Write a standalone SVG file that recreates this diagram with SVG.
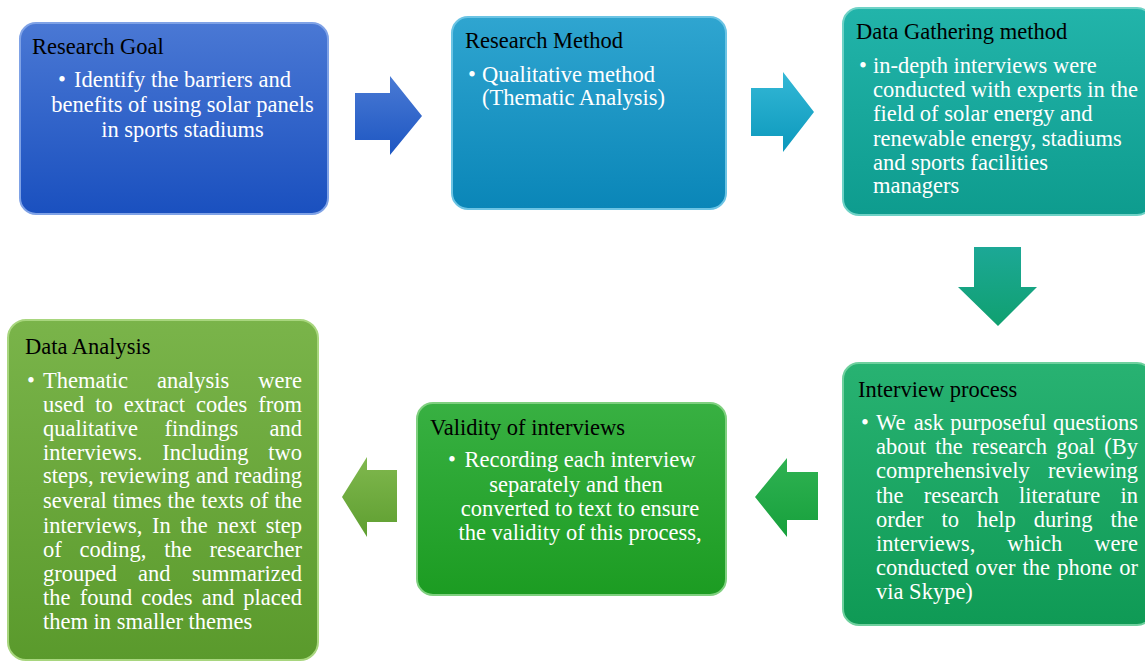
<svg xmlns="http://www.w3.org/2000/svg" width="1145" height="663" viewBox="0 0 1145 663">
<defs>
<linearGradient id="g1" x1="0" y1="0" x2="0" y2="1"><stop offset="0" stop-color="#4a78d4"/><stop offset="1" stop-color="#1a50bf"/></linearGradient>
<linearGradient id="g2" x1="0" y1="0" x2="0" y2="1"><stop offset="0" stop-color="#2fa5d0"/><stop offset="1" stop-color="#0a86b8"/></linearGradient>
<linearGradient id="g3" x1="0" y1="0" x2="0" y2="1"><stop offset="0" stop-color="#22b4aa"/><stop offset="1" stop-color="#0e9c8e"/></linearGradient>
<linearGradient id="g4" x1="0" y1="0" x2="0" y2="1"><stop offset="0" stop-color="#28b272"/><stop offset="1" stop-color="#0f9a55"/></linearGradient>
<linearGradient id="g5" x1="0" y1="0" x2="0" y2="1"><stop offset="0" stop-color="#38b042"/><stop offset="1" stop-color="#1c9c22"/></linearGradient>
<linearGradient id="g6" x1="0" y1="0" x2="0" y2="1"><stop offset="0" stop-color="#7ab44a"/><stop offset="1" stop-color="#5a9a2c"/></linearGradient>
<linearGradient id="a1" x1="0" y1="0" x2="0" y2="1"><stop offset="0" stop-color="#4a7ad4"/><stop offset="1" stop-color="#1d56c2"/></linearGradient>
<linearGradient id="a2" x1="0" y1="0" x2="0" y2="1"><stop offset="0" stop-color="#34b8d6"/><stop offset="1" stop-color="#0c98bc"/></linearGradient>
<linearGradient id="a3" x1="0" y1="0" x2="0" y2="1"><stop offset="0" stop-color="#1ca896"/><stop offset="1" stop-color="#10a070"/></linearGradient>
<linearGradient id="a4" x1="0" y1="0" x2="0" y2="1"><stop offset="0" stop-color="#2fb252"/><stop offset="1" stop-color="#17a03c"/></linearGradient>
<linearGradient id="a5" x1="0" y1="0" x2="0" y2="1"><stop offset="0" stop-color="#80b84e"/><stop offset="1" stop-color="#5e9e30"/></linearGradient>
</defs>
<style>
.box{stroke-width:2}
.t{font-family:"Liberation Serif","Times New Roman",serif;font-size:22.5px;fill:#000}
.b{font-family:"Liberation Serif","Times New Roman",serif;font-size:22.5px;fill:#fff}
.e{text-anchor:end}
.c{text-anchor:middle}
</style>
<rect width="1145" height="663" fill="#fff"/>
<g id="connectors">
<polygon points="355,93 390,93 390,76 422,116 390,155 390,140 355,140" fill="url(#a1)"/>
<polygon points="751,88 783,88 783,72 814,112 783,152 783,136 751,136" fill="url(#a2)"/>
<polygon points="974,247 1021,247 1021,287 1037,287 998,326 958,287 974,287" fill="url(#a3)"/>
<polygon points="818,472 787,472 787,458 755,497 787,537 787,520 818,520" fill="url(#a4)"/>
<polygon points="397,470 367,470 367,457 342,497 367,537 367,522 397,522" fill="url(#a5)"/>
</g>
<g id="research-goal">
<rect class="box" x="20" y="23" width="308" height="191" rx="16" fill="url(#g1)" stroke="#7fa2e6"/>
<text class="t" x="32" y="54">Research Goal</text>
<text class="b" x="58" y="87">•</text>
<text class="b c" x="182.5" y="87">Identify the barriers and</text>
<text class="b c" x="182.5" y="112">benefits of using solar panels</text>
<text class="b c" x="182.5" y="137">in sports stadiums</text>
</g>
<g id="research-method">
<rect class="box" x="452" y="17" width="274" height="192" rx="16" fill="url(#g2)" stroke="#6cc4e4"/>
<text class="t" x="465" y="48">Research Method</text>
<text class="b" x="468" y="82">•</text>
<text class="b" x="482" y="82">Qualitative method</text>
<text class="b" x="482" y="105">(Thematic Analysis)</text>
</g>
<g id="data-gathering">
<rect class="box" x="843" y="8" width="310" height="207" rx="16" fill="url(#g3)" stroke="#6fd2c6"/>
<text class="t" x="856" y="39">Data Gathering method</text>
<text class="b" x="859" y="73">•</text>
<text class="b" x="873" y="73">in-depth interviews were</text>
<text class="b" x="873" y="97">conducted with experts in the</text>
<text class="b" x="873" y="121">field of solar energy and</text>
<text class="b" x="873" y="146">renewable energy, stadiums</text>
<text class="b" x="873" y="170">and sports facilities</text>
<text class="b" x="873" y="193">managers</text>
</g>
<g id="interview-process">
<rect class="box" x="843" y="363" width="310" height="262" rx="16" fill="url(#g4)" stroke="#6fd09e"/>
<text class="t" x="858" y="397">Interview process</text>
<text class="b" x="861" y="430">•</text>
<text class="b" x="876" y="430">We</text><text class="b" x="913.7" y="430">ask</text><text class="b" x="950.2" y="430">purposeful</text><text class="b e" x="1138" y="430">questions</text>
<text class="b" x="876" y="454">about</text><text class="b" x="935.3" y="454">the</text><text class="b" x="972.1" y="454">research</text><text class="b" x="1056.3" y="454">goal</text><text class="b e" x="1138" y="454">(By</text>
<text class="b" x="876" y="478">comprehensively</text><text class="b e" x="1138" y="478">reviewing</text>
<text class="b" x="876" y="503">the</text><text class="b" x="923.8" y="503">research</text><text class="b" x="1019" y="503">literature</text><text class="b e" x="1138" y="503">in</text>
<text class="b" x="876" y="527">order</text><text class="b" x="941.5" y="527">to</text><text class="b" x="977" y="527">help</text><text class="b" x="1033.7" y="527">during</text><text class="b e" x="1138" y="527">the</text>
<text class="b" x="876" y="551">interviews,</text><text class="b" x="1007.3" y="551">which</text><text class="b e" x="1138" y="551">were</text>
<text class="b" x="876" y="575">conducted</text><text class="b" x="975.6" y="575">over</text><text class="b" x="1022.6" y="575">the</text><text class="b" x="1057.2" y="575">phone</text><text class="b e" x="1138" y="575">or</text>
<text class="b" x="876" y="599">via Skype)</text>
</g>
<g id="validity">
<rect class="box" x="417" y="403" width="309" height="192" rx="16" fill="url(#g5)" stroke="#7fd07f"/>
<text class="t" x="430" y="435">Validity of interviews</text>
<text class="b" x="448" y="467">•</text>
<text class="b c" x="580" y="467">Recording each interview</text>
<text class="b c" x="576" y="492">separately and then</text>
<text class="b c" x="580" y="516">converted to text to ensure</text>
<text class="b c" x="580" y="540">the validity of this process,</text>
</g>
<g id="data-analysis">
<rect class="box" x="8" y="320" width="310" height="340" rx="18" fill="url(#g6)" stroke="#a8d67e"/>
<text class="t" x="25" y="354">Data Analysis</text>
<text class="b" x="27" y="388">•</text>
<text class="b" x="43" y="388">Thematic</text><text class="b" x="156.9" y="388">analysis</text><text class="b e" x="302" y="388">were</text>
<text class="b" x="43" y="412">used</text><text class="b" x="95.3" y="412">to</text><text class="b" x="123.8" y="412">extract</text><text class="b" x="196.1" y="412">codes</text><text class="b e" x="302" y="412">from</text>
<text class="b" x="43" y="436">qualitative</text><text class="b" x="164.4" y="436">findings</text><text class="b e" x="302" y="436">and</text>
<text class="b" x="43" y="460">interviews.</text><text class="b" x="162.2" y="460">Including</text><text class="b e" x="302" y="460">two</text>
<text class="b" x="43" y="483">steps,</text><text class="b" x="99.7" y="483">reviewing</text><text class="b" x="195.9" y="483">and</text><text class="b e" x="302" y="483">reading</text>
<text class="b" x="43" y="508">several</text><text class="b" x="112.75" y="508">times</text><text class="b" x="167.6" y="508">the</text><text class="b" x="201.15" y="508">texts</text><text class="b" x="249.7" y="508">of</text><text class="b e" x="302" y="508">the</text>
<text class="b" x="43" y="533">interviews,</text><text class="b" x="152" y="533">In</text><text class="b" x="180.3" y="533">the</text><text class="b" x="217.4" y="533">next</text><text class="b e" x="302" y="533">step</text>
<text class="b" x="43" y="557">of</text><text class="b" x="79.6" y="557">coding,</text><text class="b" x="164.3" y="557">the</text><text class="b e" x="302" y="557">researcher</text>
<text class="b" x="43" y="581">grouped</text><text class="b" x="138.1" y="581">and</text><text class="b e" x="302" y="581">summarized</text>
<text class="b" x="43" y="605">the</text><text class="b" x="79.65" y="605">found</text><text class="b" x="141.3" y="605">codes</text><text class="b" x="201.65" y="605">and</text><text class="b e" x="302" y="605">placed</text>
<text class="b" x="43" y="629">them in smaller themes</text>
</g>
</svg>
